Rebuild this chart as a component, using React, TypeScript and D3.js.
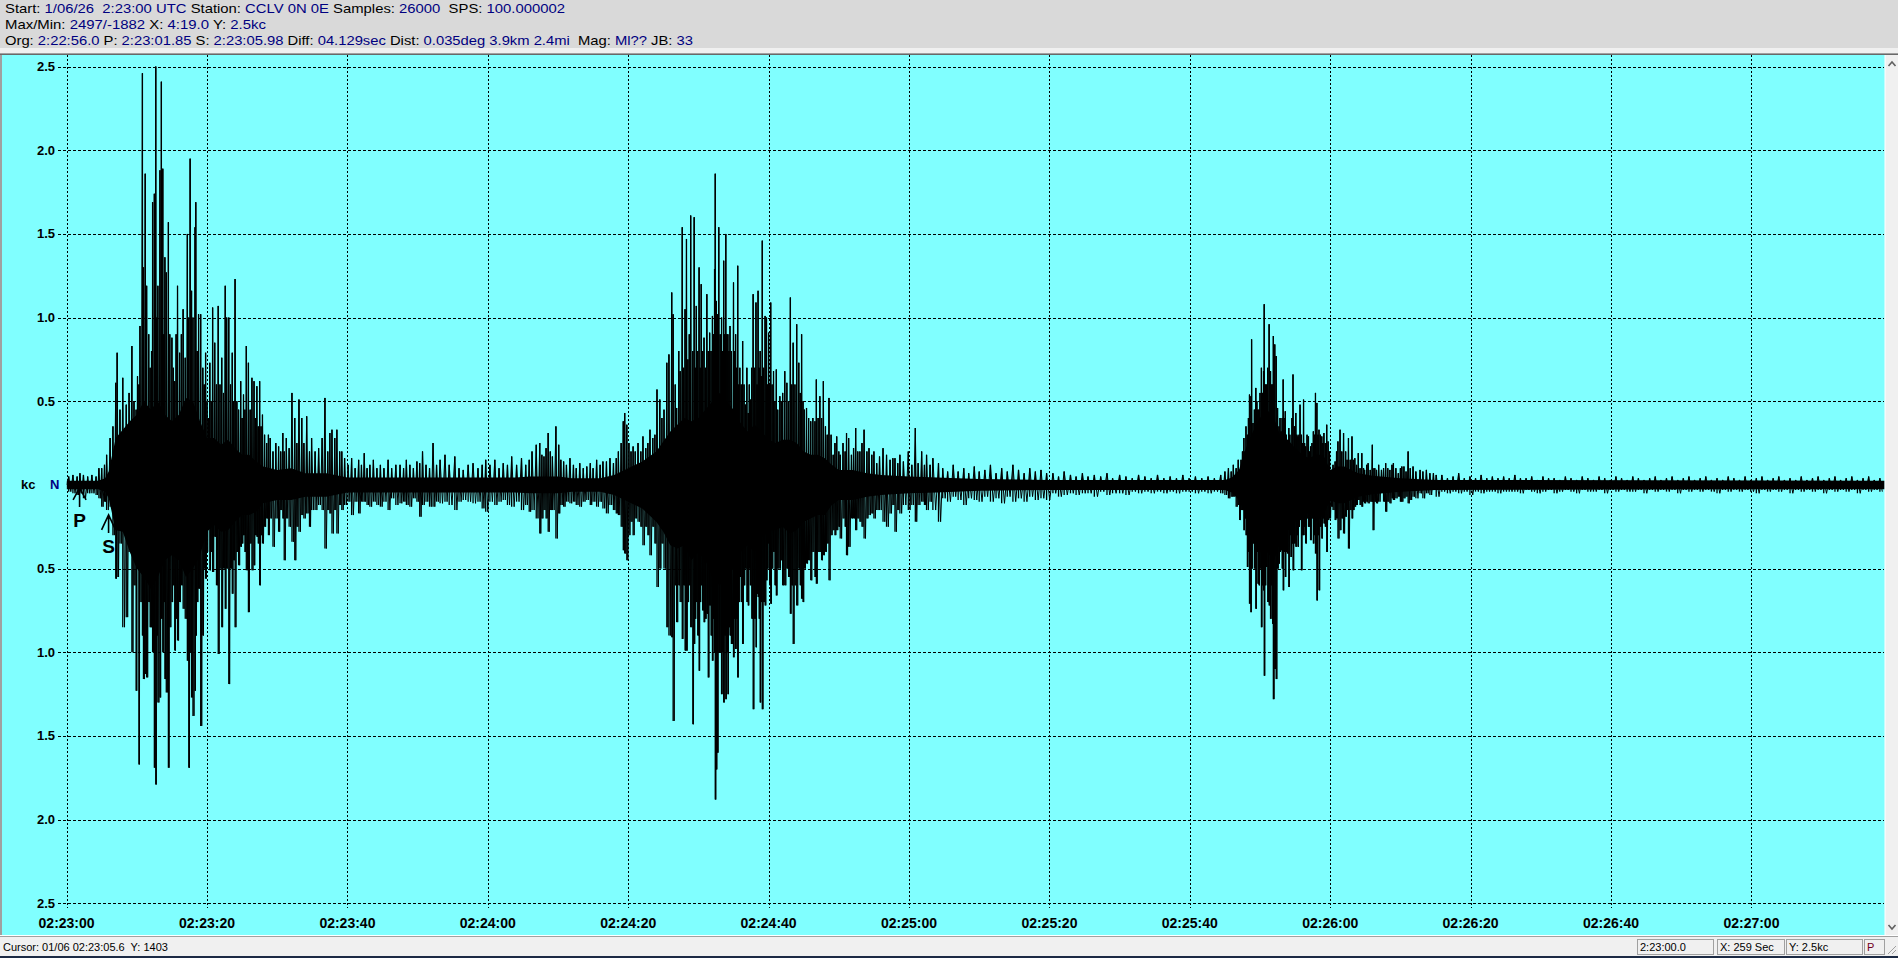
import React from "react";
import * as d3 from "d3";

// ---------- header / status texts ----------
const headerRow1: [string, boolean][] = [["Start: ", false], ["1/06/26  2:23:00 UTC", true], [" Station: ", false], ["CCLV 0N 0E", true], [" Samples: ", false], ["26000", true], ["  SPS: ", false], ["100.000002", true]];
const headerRow2: [string, boolean][] = [["Max/Min: ", false], ["2497/-1882", true], [" X: ", false], ["4:19.0", true], [" Y: ", false], ["2.5kc", true]];
const headerRow3: [string, boolean][] = [["Org: ", false], ["2:22:56.0", true], [" P: ", false], ["2:23:01.85", true], [" S: ", false], ["2:23:05.98", true], [" Diff: ", false], ["04.129sec", true], [" Dist: ", false], ["0.035deg 3.9km 2.4mi", true], ["  Mag: ", false], ["Ml??", true], [" JB: ", false], ["33", true]];
const statusLeft = "Cursor: 01/06 02:23:05.6  Y: 1403";
const statusPanels = ["2:23:00.0", "X: 259 Sec", "Y: 2.5kc", "P"];

// ---------- axes ----------
const totalSeconds = 259;
const xTickSeconds = [0, 20, 40, 60, 80, 100, 120, 140, 160, 180, 200, 220, 240];
const xTickLabels = ["02:23:00", "02:23:20", "02:23:40", "02:24:00", "02:24:20", "02:24:40", "02:25:00", "02:25:20", "02:25:40", "02:26:00", "02:26:20", "02:26:40", "02:27:00"];
const yTickValues = [2.5, 2.0, 1.5, 1.0, 0.5, -0.5, -1.0, -1.5, -2.0, -2.5];
const pickSeconds = { P: 1.85, S: 5.98 };

// ---------- waveform: solid core band (kc) ----------
const coreTime = [0, 4.5, 5.5, 6, 7, 8, 9, 10, 11, 12, 13, 14, 15, 16, 17, 18, 19, 20, 21, 22, 23, 24, 25, 26, 27, 28, 30, 32, 34, 37, 40, 64, 66, 70, 72, 76, 78, 80, 82, 84, 85, 86, 87, 88, 89, 90, 91, 92, 93, 94, 95, 96, 97, 98, 99, 100, 101, 102, 103, 104, 105, 106, 107, 108, 109, 110, 112, 114, 116, 120, 124, 130, 140, 165, 166, 167, 168, 169, 170, 171, 172, 173, 174, 175, 176, 177, 178, 179, 180, 181, 182, 183, 184, 186, 190, 195, 259];
const coreHigh = [0.025, 0.025, 0.04, 0.08, 0.28, 0.33, 0.38, 0.42, 0.5, 0.45, 0.5, 0.42, 0.38, 0.42, 0.52, 0.5, 0.38, 0.28, 0.28, 0.24, 0.27, 0.22, 0.18, 0.18, 0.14, 0.11, 0.09, 0.1, 0.07, 0.07, 0.045, 0.045, 0.05, 0.05, 0.04, 0.04, 0.06, 0.1, 0.14, 0.2, 0.26, 0.32, 0.36, 0.4, 0.38, 0.4, 0.45, 0.5, 0.55, 0.5, 0.45, 0.37, 0.32, 0.36, 0.32, 0.27, 0.25, 0.27, 0.27, 0.25, 0.2, 0.18, 0.18, 0.16, 0.12, 0.09, 0.09, 0.07, 0.06, 0.05, 0.045, 0.035, 0.03, 0.03, 0.045, 0.09, 0.22, 0.32, 0.4, 0.45, 0.4, 0.28, 0.27, 0.22, 0.18, 0.16, 0.18, 0.18, 0.09, 0.11, 0.11, 0.09, 0.07, 0.055, 0.04, 0.03, 0.025];
const coreLow = [-0.025, -0.025, -0.04, -0.08, -0.27, -0.28, -0.4, -0.5, -0.55, -0.62, -0.55, -0.45, -0.42, -0.45, -0.55, -0.5, -0.42, -0.28, -0.24, -0.28, -0.27, -0.22, -0.18, -0.18, -0.16, -0.11, -0.09, -0.09, -0.07, -0.07, -0.045, -0.045, -0.05, -0.05, -0.04, -0.04, -0.06, -0.1, -0.14, -0.22, -0.28, -0.36, -0.38, -0.36, -0.45, -0.4, -0.45, -0.55, -0.6, -0.55, -0.5, -0.4, -0.36, -0.4, -0.32, -0.27, -0.27, -0.25, -0.29, -0.27, -0.22, -0.2, -0.18, -0.18, -0.12, -0.09, -0.09, -0.07, -0.06, -0.05, -0.045, -0.035, -0.03, -0.03, -0.045, -0.09, -0.18, -0.32, -0.4, -0.4, -0.45, -0.32, -0.27, -0.22, -0.2, -0.16, -0.22, -0.18, -0.09, -0.11, -0.11, -0.09, -0.07, -0.055, -0.04, -0.03, -0.025];

// ---------- waveform: individual peaks [seconds, max kc, min kc] ----------
const preEventPeaks = [[0.3, 0.05, -0.04], [0.9, 0.06, -0.05], [1.5, 0.05, -0.06], [1.9, 0.07, -0.05], [2.4, 0.06, -0.08], [3.0, 0.05, -0.05], [3.6, 0.06, -0.05], [4.2, 0.05, -0.06], [4.6, 0.1, -0.08], [5.0, 0.1, -0.13], [5.4, 0.12, -0.1], [5.7, 0.18, -0.15]];
const event1Peaks = [[6.2, 0.28, -0.13], [6.6, 0.35, -0.3], [7.0, 0.61, -0.56], [7.2, 0.79, -0.55], [7.6, 0.45, -0.35], [8.0, 0.64, -0.85], [8.5, 0.48, -0.79], [8.9, 0.55, -0.4], [9.3, 0.83, -1.0], [9.6, 0.5, -0.6], [9.9, 0.45, -1.23], [10.1, 0.65, -0.5], [10.3, 0.6, -1.67], [10.45, 0.95, -0.7], [10.8, 2.46, -0.9], [10.95, 1.3, -1.16], [11.2, 1.86, -1.13], [11.4, 1.19, -1.15], [11.7, 0.9, -0.7], [11.9, 0.7, -0.85], [12.1, 0.8, -0.85], [12.25, 1.69, -1.0], [12.5, 1.74, -1.69], [12.7, 2.5, -1.79], [12.85, 1.0, -0.9], [13.0, 1.19, -1.3], [13.3, 1.88, -1.27], [13.5, 2.41, -0.8], [13.7, 1.89, -1.0], [13.85, 0.9, -0.7], [14.0, 1.36, -1.16], [14.2, 1.27, -1.24], [14.5, 1.57, -1.69], [14.7, 0.9, -0.85], [15.0, 0.88, -0.7], [15.2, 0.7, -0.6], [15.4, 0.62, -0.99], [15.6, 0.9, -0.8], [15.8, 1.19, -0.93], [16.1, 0.79, -0.7], [16.35, 0.9, -0.6], [16.6, 1.05, -0.74], [16.9, 0.76, -0.8], [17.2, 1.5, -1.05], [17.4, 1.0, -1.69], [17.6, 1.95, -1.0], [17.8, 1.16, -1.27], [18.0, 1.0, -1.38], [18.3, 1.54, -1.23], [18.4, 1.69, -0.9], [18.6, 0.8, -0.7], [18.8, 1.02, -0.62], [19.1, 1.02, -1.44], [19.4, 0.7, -0.9], [19.6, 0.6, -0.5], [19.8, 0.79, -0.56], [20.0, 0.5, -0.4], [20.2, 0.4, -0.25], [20.4, 0.73, -0.51], [20.6, 0.5, -0.4], [20.8, 1.06, -0.52], [21.1, 0.85, -0.31], [21.35, 0.6, -0.6], [21.6, 1.07, -1.01], [21.85, 0.6, -0.5], [22.1, 0.76, -0.85], [22.35, 0.55, -0.5], [22.6, 1.19, -0.74], [22.8, 1.0, -0.5], [23.1, 1.0, -1.19], [23.35, 0.6, -0.5], [23.6, 0.79, -0.65], [23.8, 0.5, -0.45], [24.0, 1.23, -0.85], [24.25, 0.5, -0.4], [24.5, 0.45, -0.48], [24.8, 0.62, -0.37], [25.0, 0.4, -0.35], [25.2, 0.54, -0.3], [25.4, 0.45, -0.4], [25.6, 0.83, -0.51], [25.9, 0.73, -0.76], [26.15, 0.45, -0.35], [26.4, 0.64, -0.51], [26.7, 0.62, -0.48], [26.9, 0.4, -0.3], [27.1, 0.59, -0.31], [27.3, 0.35, -0.35], [27.5, 0.62, -0.6], [27.7, 0.35, -0.3], [27.9, 0.42, -0.35], [28.2, 0.3, -0.25], [28.5, 0.25, -0.2], [28.75, 0.3, -0.3], [29.0, 0.28, -0.2], [29.4, 0.2, -0.37], [29.8, 0.25, -0.2], [30.2, 0.23, -0.28], [30.5, 0.2, -0.15], [30.8, 0.31, -0.2], [31.0, 0.2, -0.45], [31.3, 0.28, -0.2], [31.7, 0.22, -0.25], [32.1, 0.55, -0.34], [32.5, 0.4, -0.45], [32.8, 0.25, -0.25], [33.1, 0.51, -0.28], [33.5, 0.4, -0.18], [33.8, 0.25, -0.2], [34.2, 0.41, -0.17], [34.6, 0.2, -0.25], [34.9, 0.28, -0.15], [35.4, 0.2, -0.15], [35.9, 0.22, -0.12], [36.4, 0.28, -0.15], [36.8, 0.52, -0.38], [37.2, 0.2, -0.15], [37.5, 0.31, -0.17], [37.8, 0.33, -0.29], [38.2, 0.28, -0.15], [38.5, 0.33, -0.29], [38.9, 0.2, -0.12], [39.2, 0.2, -0.15], [39.6, 0.16, -0.12]];
const interval1Peaks = [[40.1, 0.12, -0.1], [40.6, 0.16, -0.18], [41.1, 0.1, -0.1], [41.6, 0.15, -0.17], [42.0, 0.12, -0.1], [42.4, 0.19, -0.1], [42.8, 0.1, -0.12], [43.2, 0.12, -0.13], [43.7, 0.15, -0.1], [44.2, 0.1, -0.12], [44.7, 0.12, -0.13], [45.2, 0.1, -0.1], [45.8, 0.15, -0.15], [46.3, 0.1, -0.08], [46.9, 0.12, -0.12], [47.5, 0.12, -0.11], [48.0, 0.1, -0.1], [48.4, 0.15, -0.12], [48.9, 0.12, -0.13], [49.4, 0.1, -0.08], [49.9, 0.14, -0.1], [50.3, 0.13, -0.19], [50.7, 0.2, -0.12], [51.2, 0.12, -0.1], [51.7, 0.1, -0.13], [52.2, 0.25, -0.13], [52.7, 0.12, -0.1], [53.2, 0.15, -0.11], [53.9, 0.18, -0.1], [54.5, 0.12, -0.12], [55.3, 0.17, -0.15], [55.9, 0.1, -0.1], [56.5, 0.09, -0.09], [57.2, 0.12, -0.1], [57.9, 0.13, -0.11], [58.6, 0.1, -0.1], [59.2, 0.12, -0.14], [59.7, 0.15, -0.16], [60.3, 0.12, -0.1], [61.0, 0.15, -0.12], [61.6, 0.1, -0.1], [62.2, 0.13, -0.09], [62.8, 0.12, -0.12], [63.4, 0.17, -0.13], [64.1, 0.12, -0.1], [64.8, 0.16, -0.15], [65.4, 0.12, -0.12], [65.9, 0.15, -0.16], [66.3, 0.2, -0.15], [66.9, 0.24, -0.2], [67.4, 0.25, -0.29], [67.7, 0.18, -0.2], [68.0, 0.17, -0.15], [68.3, 0.22, -0.2], [68.6, 0.31, -0.28], [68.9, 0.2, -0.15], [69.2, 0.17, -0.15], [69.7, 0.35, -0.32], [70.1, 0.24, -0.17], [70.4, 0.15, -0.12], [70.8, 0.14, -0.13], [71.2, 0.12, -0.1], [71.7, 0.16, -0.11], [72.2, 0.12, -0.1], [72.6, 0.1, -0.12], [73.1, 0.13, -0.13], [73.6, 0.1, -0.1], [74.1, 0.11, -0.09], [74.6, 0.13, -0.12], [75.0, 0.1, -0.1], [75.5, 0.15, -0.13], [76.0, 0.12, -0.1], [76.4, 0.14, -0.14], [76.9, 0.14, -0.17], [77.4, 0.16, -0.12], [77.9, 0.13, -0.15], [78.3, 0.16, -0.17], [78.6, 0.2, -0.18], [79.0, 0.25, -0.25]];
const event2Peaks = [[79.3, 0.38, -0.39], [79.5, 0.43, -0.41], [79.8, 0.36, -0.45], [80.1, 0.25, -0.3], [80.4, 0.2, -0.22], [80.7, 0.23, -0.3], [81.0, 0.2, -0.2], [81.4, 0.25, -0.22], [81.8, 0.2, -0.25], [82.1, 0.29, -0.36], [82.5, 0.22, -0.25], [82.8, 0.25, -0.3], [83.1, 0.33, -0.42], [83.5, 0.28, -0.25], [83.8, 0.3, -0.35], [84.1, 0.57, -0.61], [84.5, 0.51, -0.5], [84.8, 0.4, -0.35], [85.1, 0.45, -0.5], [85.5, 0.73, -0.85], [85.8, 0.78, -0.9], [86.2, 1.15, -0.91], [86.4, 1.02, -1.41], [86.7, 0.6, -0.6], [86.9, 0.46, -0.82], [87.2, 0.8, -0.6], [87.4, 0.68, -0.7], [87.7, 1.54, -0.92], [87.9, 0.7, -0.6], [88.1, 1.05, -0.99], [88.3, 1.47, -0.99], [88.5, 0.75, -0.7], [88.7, 0.9, -0.6], [88.9, 1.61, -0.85], [89.2, 0.8, -1.43], [89.4, 1.6, -0.95], [89.55, 0.7, -0.8], [89.7, 1.07, -0.7], [89.9, 0.8, -0.9], [90.1, 1.3, -1.11], [90.25, 0.7, -0.7], [90.4, 1.2, -0.6], [90.6, 0.8, -0.75], [90.8, 0.88, -0.82], [91.0, 0.7, -0.8], [91.2, 1.14, -0.77], [91.4, 0.8, -1.15], [91.6, 0.91, -0.72], [91.8, 0.8, -0.9], [92.0, 1.01, -1.05], [92.15, 0.9, -0.8], [92.3, 1.29, -1.0], [92.4, 1.86, -1.88], [92.55, 1.1, -1.7], [92.7, 1.02, -1.6], [92.9, 1.54, -1.0], [93.1, 0.9, -1.0], [93.3, 1.0, -1.25], [93.45, 0.8, -1.0], [93.6, 1.34, -1.3], [93.75, 0.9, -0.9], [93.9, 1.5, -1.28], [94.05, 0.9, -1.0], [94.2, 0.9, -1.25], [94.35, 0.8, -0.85], [94.5, 0.95, -0.9], [94.7, 0.8, -0.95], [95.0, 1.21, -1.03], [95.15, 0.8, -0.8], [95.3, 0.9, -0.98], [95.45, 0.7, -0.8], [95.6, 1.31, -1.15], [95.75, 0.6, -0.7], [95.9, 0.7, -0.55], [96.1, 0.6, -0.7], [96.3, 0.86, -0.95], [96.5, 0.6, -0.6], [96.7, 0.48, -0.5], [96.9, 0.7, -0.7], [97.1, 0.43, -0.72], [97.25, 0.6, -0.5], [97.4, 0.51, -0.6], [97.6, 0.7, -0.8], [97.8, 1.14, -1.34], [98.0, 0.7, -0.8], [98.2, 1.09, -0.97], [98.35, 0.6, -0.65], [98.5, 1.16, -0.67], [98.65, 0.7, -0.8], [98.8, 0.8, -1.3], [98.95, 0.65, -0.7], [99.1, 1.46, -1.34], [99.3, 0.7, -0.7], [99.5, 1.01, -0.72], [99.7, 1.0, -0.57], [99.85, 0.6, -0.5], [100.0, 0.91, -0.35], [100.15, 0.6, -0.6], [100.3, 1.09, -0.71], [100.5, 0.6, -0.5], [100.7, 0.68, -0.4], [100.9, 0.5, -0.6], [101.1, 0.69, -0.66], [101.3, 0.45, -0.5], [101.6, 0.53, -0.5], [101.8, 0.5, -0.45], [102.0, 0.55, -0.6], [102.3, 0.68, -0.6], [102.6, 0.61, -0.5], [102.85, 0.5, -0.55], [103.1, 1.12, -0.77], [103.3, 0.6, -0.6], [103.5, 0.85, -0.95], [103.75, 0.6, -0.6], [104.0, 0.96, -0.72], [104.3, 0.73, -0.5], [104.5, 0.55, -0.6], [104.7, 0.9, -0.68], [104.9, 0.5, -0.7], [105.1, 0.45, -0.5], [105.4, 0.46, -0.47], [105.7, 0.4, -0.45], [106.0, 0.38, -0.57], [106.3, 0.4, -0.4], [106.6, 0.38, -0.55], [106.8, 0.63, -0.59], [107.05, 0.4, -0.4], [107.3, 0.53, -0.4], [107.55, 0.4, -0.45], [107.8, 0.62, -0.42], [108.1, 0.35, -0.4], [108.35, 0.3, -0.35], [108.6, 0.52, -0.57], [108.9, 0.3, -0.3], [109.2, 0.18, -0.27], [109.45, 0.25, -0.3], [109.7, 0.29, -0.27], [110.0, 0.2, -0.25], [110.2, 0.18, -0.32], [110.6, 0.25, -0.2], [110.9, 0.2, -0.25], [111.1, 0.31, -0.42], [111.4, 0.28, -0.37], [111.8, 0.18, -0.2], [112.1, 0.22, -0.2], [112.4, 0.34, -0.27], [112.7, 0.2, -0.2], [113.0, 0.2, -0.22], [113.3, 0.25, -0.25], [113.6, 0.33, -0.32], [114.0, 0.2, -0.2], [114.3, 0.22, -0.18], [114.7, 0.18, -0.17], [115.0, 0.2, -0.2], [115.4, 0.13, -0.15], [115.8, 0.17, -0.15], [116.3, 0.22, -0.22], [116.8, 0.18, -0.25], [117.3, 0.15, -0.17], [117.7, 0.16, -0.12], [118.0, 0.16, -0.28], [118.4, 0.13, -0.15], [118.7, 0.18, -0.17], [119.2, 0.14, -0.12], [119.9, 0.2, -0.15], [120.4, 0.12, -0.12], [120.9, 0.34, -0.22], [121.3, 0.13, -0.12], [121.8, 0.2, -0.1], [122.2, 0.12, -0.12], [122.5, 0.18, -0.15], [123.0, 0.12, -0.1], [123.4, 0.16, -0.15], [124.2, 0.13, -0.22]];
const interval2Peaks = [[124.8, 0.1, -0.08], [125.5, 0.08, -0.1], [126.3, 0.12, -0.07], [127.0, 0.08, -0.09], [127.8, 0.1, -0.12], [128.5, 0.07, -0.08], [129.3, 0.11, -0.09], [130.0, 0.08, -0.1], [130.8, 0.09, -0.07], [131.6, 0.12, -0.1], [132.4, 0.07, -0.08], [133.2, 0.1, -0.11], [134.0, 0.08, -0.07], [134.8, 0.12, -0.1], [135.6, 0.09, -0.08], [136.4, 0.07, -0.1], [137.2, 0.1, -0.07], [138.0, 0.08, -0.09], [138.8, 0.09, -0.08], [139.6, 0.07, -0.09], [140.5, 0.07, -0.05], [141.3, 0.05, -0.07], [142.1, 0.08, -0.06], [143.0, 0.06, -0.05], [143.8, 0.05, -0.06], [144.7, 0.07, -0.05], [145.5, 0.05, -0.05], [146.4, 0.06, -0.07], [147.3, 0.05, -0.04], [148.2, 0.07, -0.06], [149.0, 0.04, -0.05], [150.0, 0.06, -0.05], [150.9, 0.05, -0.06], [151.8, 0.04, -0.04], [152.7, 0.06, -0.05], [153.6, 0.05, -0.04], [154.5, 0.04, -0.05], [155.4, 0.06, -0.04], [156.3, 0.04, -0.05], [157.2, 0.05, -0.04], [158.1, 0.04, -0.05], [159.0, 0.06, -0.04], [159.9, 0.04, -0.04], [160.8, 0.05, -0.05], [161.7, 0.04, -0.04], [162.6, 0.05, -0.05], [163.5, 0.04, -0.04], [164.4, 0.06, -0.05]];
const event3Peaks = [[165.0, 0.08, -0.06], [165.5, 0.1, -0.08], [165.9, 0.08, -0.07], [166.2, 0.12, -0.07], [166.6, 0.1, -0.13], [166.9, 0.15, -0.12], [167.1, 0.09, -0.21], [167.3, 0.15, -0.15], [167.5, 0.2, -0.15], [167.7, 0.28, -0.27], [167.85, 0.2, -0.2], [168.0, 0.35, -0.3], [168.2, 0.3, -0.49], [168.35, 0.4, -0.4], [168.5, 0.54, -0.71], [168.7, 0.53, -0.76], [168.8, 0.87, -0.5], [169.0, 0.37, -0.35], [169.2, 0.45, -0.5], [169.4, 0.58, -0.74], [169.55, 0.5, -0.4], [169.7, 0.45, -0.59], [169.85, 0.45, -0.6], [170.0, 0.55, -0.5], [170.2, 0.7, -0.85], [170.35, 0.55, -0.6], [170.5, 0.68, -0.63], [170.6, 1.08, -1.14], [170.75, 0.6, -0.6], [170.9, 0.6, -0.49], [171.1, 0.7, -0.7], [171.3, 0.96, -0.72], [171.5, 0.68, -0.8], [171.65, 0.6, -0.6], [171.8, 0.6, -0.83], [171.9, 0.89, -1.28], [172.1, 0.84, -1.1], [172.3, 0.77, -1.16], [172.5, 0.46, -0.5], [172.7, 0.35, -0.47], [172.85, 0.4, -0.4], [173.0, 0.32, -0.39], [173.15, 0.4, -0.5], [173.3, 0.63, -0.63], [173.45, 0.4, -0.4], [173.6, 0.44, -0.55], [173.75, 0.3, -0.4], [173.9, 0.2, -0.41], [174.1, 0.34, -0.61], [174.25, 0.3, -0.3], [174.4, 0.17, -0.43], [174.55, 0.4, -0.35], [174.7, 0.66, -0.51], [174.9, 0.35, -0.35], [175.1, 0.43, -0.37], [175.25, 0.3, -0.3], [175.4, 0.29, -0.37], [175.55, 0.3, -0.25], [175.7, 0.48, -0.21], [175.9, 0.3, -0.51], [176.05, 0.25, -0.3], [176.2, 0.51, -0.3], [176.35, 0.25, -0.25], [176.5, 0.23, -0.35], [176.7, 0.3, -0.2], [176.9, 0.29, -0.25], [177.05, 0.2, -0.25], [177.2, 0.23, -0.33], [177.4, 0.25, -0.2], [177.6, 0.32, -0.35], [177.75, 0.3, -0.3], [177.9, 0.55, -0.41], [178.1, 0.49, -0.69], [178.25, 0.3, -0.3], [178.4, 0.33, -0.63], [178.6, 0.3, -0.25], [178.8, 0.29, -0.32], [178.95, 0.25, -0.2], [179.1, 0.31, -0.23], [179.3, 0.25, -0.25], [179.5, 0.36, -0.4], [179.7, 0.26, -0.21], [179.9, 0.2, -0.2], [180.2, 0.05, -0.13], [180.4, 0.12, -0.15], [180.7, 0.14, -0.21], [180.9, 0.2, -0.2], [181.1, 0.26, -0.32], [181.4, 0.33, -0.27], [181.65, 0.2, -0.2], [181.9, 0.31, -0.29], [182.2, 0.2, -0.19], [182.4, 0.15, -0.15], [182.6, 0.28, -0.38], [182.85, 0.15, -0.15], [183.1, 0.29, -0.2], [183.3, 0.15, -0.15], [183.5, 0.16, -0.13], [183.75, 0.12, -0.12], [184.0, 0.19, -0.09], [184.25, 0.1, -0.12], [184.5, 0.19, -0.13], [184.75, 0.1, -0.1], [184.9, 0.09, -0.11], [185.2, 0.12, -0.1], [185.4, 0.13, -0.11], [185.7, 0.09, -0.1], [186.0, 0.24, -0.1], [186.1, 0.1, -0.27], [186.35, 0.1, -0.1], [186.6, 0.09, -0.11], [186.9, 0.12, -0.1], [187.3, 0.09, -0.03], [187.6, 0.1, -0.1], [187.9, 0.13, -0.16], [188.2, 0.1, -0.1], [188.5, 0.09, -0.11], [188.8, 0.12, -0.08], [189.0, 0.13, -0.09], [189.35, 0.1, -0.08], [189.7, 0.07, -0.07], [190.0, 0.1, -0.1], [190.2, 0.11, -0.1], [190.5, 0.11, -0.08], [190.8, 0.08, -0.07], [191.1, 0.2, -0.11], [191.4, 0.1, -0.09], [191.8, 0.11, -0.07], [192.2, 0.08, -0.08], [192.8, 0.09, -0.05], [193.2, 0.08, -0.08], [193.7, 0.09, -0.05], [194.2, 0.07, -0.06], [194.7, 0.07, -0.03], [195.1, 0.06, -0.07]];
const tailPeaks = [[195.9, 0.06, -0.04], [196.7, 0.04, -0.05], [197.5, 0.05, -0.04], [198.3, 0.07, -0.05], [199.1, 0.04, -0.04], [199.9, 0.05, -0.06], [200.7, 0.04, -0.04], [201.5, 0.06, -0.05], [202.3, 0.04, -0.04], [203.1, 0.05, -0.04], [203.9, 0.04, -0.05], [204.7, 0.05, -0.04], [205.5, 0.04, -0.04], [206.3, 0.06, -0.04], [207.1, 0.04, -0.05], [207.9, 0.04, -0.03], [208.7, 0.05, -0.04], [209.5, 0.03, -0.05], [210.3, 0.05, -0.04], [211.1, 0.04, -0.03], [211.9, 0.04, -0.05], [212.7, 0.03, -0.04], [213.5, 0.05, -0.03], [214.3, 0.04, -0.04], [215.1, 0.03, -0.05], [215.9, 0.05, -0.03], [216.7, 0.04, -0.04], [217.5, 0.03, -0.04], [218.3, 0.05, -0.03], [219.1, 0.04, -0.05], [219.9, 0.03, -0.03], [220.7, 0.05, -0.04], [221.5, 0.04, -0.03], [222.3, 0.03, -0.04], [223.1, 0.05, -0.04], [223.9, 0.04, -0.03], [224.7, 0.03, -0.05], [225.5, 0.04, -0.03], [226.3, 0.05, -0.04], [227.1, 0.03, -0.03], [227.9, 0.04, -0.04], [228.7, 0.05, -0.03], [229.5, 0.03, -0.05], [230.3, 0.04, -0.03], [231.1, 0.05, -0.04], [231.9, 0.03, -0.03], [232.7, 0.04, -0.04], [233.5, 0.05, -0.03], [234.3, 0.03, -0.04], [235.1, 0.04, -0.05], [235.9, 0.03, -0.03], [236.7, 0.05, -0.04], [237.5, 0.04, -0.03], [238.3, 0.03, -0.04], [239.1, 0.05, -0.03], [239.9, 0.03, -0.04], [240.7, 0.04, -0.05], [241.5, 0.05, -0.03], [242.3, 0.03, -0.04], [243.1, 0.04, -0.03], [243.9, 0.05, -0.04], [244.7, 0.03, -0.03], [245.5, 0.04, -0.05], [246.3, 0.03, -0.03], [247.1, 0.05, -0.04], [247.9, 0.03, -0.03], [248.7, 0.04, -0.04], [249.5, 0.05, -0.03], [250.3, 0.03, -0.05], [251.1, 0.04, -0.03], [251.9, 0.05, -0.04], [252.7, 0.03, -0.03], [253.5, 0.04, -0.04], [254.3, 0.05, -0.03], [255.1, 0.03, -0.05], [255.9, 0.04, -0.03], [256.7, 0.05, -0.04], [257.5, 0.03, -0.03], [258.3, 0.04, -0.04]];

const allPeaks = [...preEventPeaks, ...event1Peaks, ...interval1Peaks, ...event2Peaks, ...interval2Peaks, ...event3Peaks, ...tailPeaks];

// ---------- colours ----------
const CYAN = "#80ffff";
const NAVY = "#000080";
const HEADER_BG = "#d9d9d9";
const PANEL_BG = "#f0f0f0";

const W = 1898;
const H = 958;

const HeaderRow = ({ parts, y, width }: { parts: [string, boolean][]; y: number; width: number }) => (
  <text x={5} y={y} fontFamily="'Liberation Sans', Arial, sans-serif" fontSize={13} textLength={width} lengthAdjust="spacingAndGlyphs" style={{ whiteSpace: "pre" }}>
    {parts.map((p, i) => (
      <tspan key={i} fill={p[1] ? NAVY : "#000"}>{p[0]}</tspan>
    ))}
  </text>
);

export default function App() {
  const x = d3.scaleLinear().domain([0, totalSeconds]).range([66.6, 1884.8]);
  const y = d3.scaleLinear().domain([-2.5, 2.5]).range([903.3, 66.6]);

  const core = d3
    .area<number>()
    .x((t) => x(t))
    .y0((_, i) => y(coreLow[i]))
    .y1((_, i) => y(coreHigh[i]))(coreTime) as string;

  // trace drawn the way a plotter joins samples: max -> min -> next max ...
  const tracePoints: [number, number][] = [[0, 0]];
  allPeaks.forEach((p, i) => {
    const next = i < allPeaks.length - 1 ? allPeaks[i + 1][0] : totalSeconds;
    tracePoints.push([p[0], p[1]]);
    tracePoints.push([(p[0] + next) / 2, p[2]]);
  });
  const trace = d3
    .line<[number, number]>()
    .x((d) => x(d[0]))
    .y((d) => y(d[1]))(tracePoints) as string;

  const px = x(pickSeconds.P);
  const sx = x(pickSeconds.S);
  const y0 = y(0);

  const panelX = [1637, 1717, 1786, 1864];
  const panelW = [76, 67, 76, 20];

  return (
    <svg width={W} height={H} style={{ position: "absolute", left: 0, top: 0, display: "block" }} fontFamily="'Liberation Sans', Arial, sans-serif">
      {/* header */}
      <rect x={0} y={0} width={W} height={48} fill={HEADER_BG} />
      <HeaderRow parts={headerRow1} y={13} width={560} />
      <HeaderRow parts={headerRow2} y={29} width={261} />
      <HeaderRow parts={headerRow3} y={45} width={688} />
      <rect x={0} y={48} width={W} height={5} fill={PANEL_BG} />
      <rect x={0} y={53} width={W} height={1} fill="#a0a0a0" />
      <rect x={0} y={54} width={W} height={1} fill="#696969" />

      {/* plot background */}
      <rect x={0} y={55} width={1885} height={880} fill={CYAN} />
      <rect x={0} y={55} width={2} height={880} fill="#a0a0a0" />

      {/* grid */}
      {yTickValues.map((v) => (
        <g key={"h" + v}>
          <line x1={58} x2={1884} y1={Math.round(y(v)) + 0.5} y2={Math.round(y(v)) + 0.5} stroke="#000" strokeWidth={1} strokeDasharray="3,2" />
          <text x={55} y={y(v) + 4.5} textAnchor="end" fontSize={13} fontWeight="bold" fill="#000">
            {Math.abs(v).toFixed(1)}
          </text>
        </g>
      ))}
      {xTickSeconds.map((t, i) => (
        <g key={"v" + t}>
          <line x1={Math.round(x(t)) + 0.5} x2={Math.round(x(t)) + 0.5} y1={55} y2={908} stroke="#000" strokeWidth={1} strokeDasharray="2,2" />
          <text x={x(t)} y={928} textAnchor="middle" fontSize={14} fontWeight="bold" fill="#000">
            {xTickLabels[i]}
          </text>
        </g>
      ))}

      {/* channel label */}
      <text x={21} y={y0 + 4.5} fontSize={13} fontWeight="bold" fill="#000">kc</text>
      <text x={50} y={y0 + 4.5} fontSize={13} fontWeight="bold" fill={NAVY}>N</text>

      {/* trace */}
      <clipPath id="plotClip">
        <rect x={x(0)} y={55} width={x(totalSeconds) - x(0)} height={880} />
      </clipPath>
      <g clipPath="url(#plotClip)">
        <path d={core} fill="#000" />
        <path d={trace} fill="none" stroke="#000" strokeWidth={1} strokeLinejoin="miter" />
        {allPeaks.map((p, i) => (
          <line key={i} x1={x(p[0])} x2={x(p[0])} y1={y(p[1])} y2={y(p[2])} stroke="#000" strokeWidth={1.3} />
        ))}
      </g>

      {/* picks */}
      <g stroke="#000" strokeWidth={1.6} fill="none">
        <path d={`M${px - 6.5},${y0 + 15} L${px},${y0 + 3} L${px + 6.5},${y0 + 15} M${px},${y0 + 3} L${px},${y0 + 22}`} />
        <path d={`M${sx - 7},${y0 + 45} L${sx},${y0 + 30} L${sx + 7},${y0 + 45} M${sx},${y0 + 30} L${sx},${y0 + 48}`} />
      </g>
      <text x={px} y={y0 + 42} textAnchor="middle" fontSize={19} fontWeight="bold" fill="#000">P</text>
      <text x={sx} y={y0 + 68} textAnchor="middle" fontSize={19} fontWeight="bold" fill="#000">S</text>

      {/* scrollbar */}
      <rect x={1885} y={55} width={13} height={880} fill={PANEL_BG} />
      <rect x={1884.5} y={55} width={1} height={880} fill="#ffffff" />
      <path d="M1888.5,66 L1892,62 L1895.5,66" stroke="#606060" strokeWidth={1.6} fill="none" />
      <path d="M1888.5,925 L1892,929 L1895.5,925" stroke="#606060" strokeWidth={1.6} fill="none" />

      {/* bottom status bar */}
      <rect x={0} y={935} width={W} height={1} fill="#ffffff" />
      <rect x={0} y={936} width={W} height={1} fill="#a0a0a0" />
      <rect x={0} y={937} width={W} height={19} fill={PANEL_BG} />
      <text x={3} y={951} fontSize={11} fill="#000" style={{ whiteSpace: "pre" }}>{statusLeft}</text>
      {statusPanels.map((s, i) => (
        <g key={s}>
          <rect x={panelX[i] + 0.5} y={939.5} width={panelW[i]} height={15} fill="none" stroke="#a0a0a0" />
          <text x={panelX[i] + 3} y={951} fontSize={11} fill={i === 3 ? "#700020" : "#000"}>{s}</text>
        </g>
      ))}
      <path d="M1896,946 L1888,954 M1896,950 L1892,954" stroke="#a0a0a0" strokeWidth={1} />
      <rect x={0} y={956} width={W} height={2} fill="#1c2a44" />
    </svg>
  );
}
